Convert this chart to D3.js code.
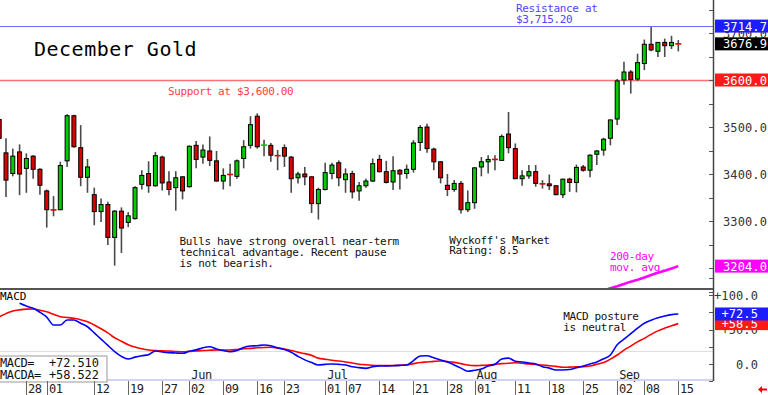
<!DOCTYPE html>
<html>
<head>
<meta charset="utf-8">
<script src="https://cdn.jsdelivr.net/npm/d3@7"></script>
<style>
  html, body { margin: 0; padding: 0; background: #ffffff; }
  svg { display: block; }
  text { font-family: "DejaVu Sans Mono", monospace; }
</style>
</head>
<body>
<div id="chart"></div>
<script>
// trading days shown (MM/DD, 2025)
const dates = ['04/22','04/23','04/24','04/25','04/28','04/29','04/30','05/01','05/02','05/05','05/06','05/07','05/08','05/09','05/12','05/13','05/14','05/15','05/16','05/19','05/20','05/21','05/22','05/23','05/27','05/28','05/29','05/30','06/02','06/03','06/04','06/05','06/06','06/09','06/10','06/11','06/12','06/13','06/16','06/17','06/18','06/20','06/23','06/24','06/25','06/26','06/27','06/30','07/01','07/02','07/03','07/07','07/08','07/09','07/10','07/11','07/14','07/15','07/16','07/17','07/18','07/21','07/22','07/23','07/24','07/25','07/28','07/29','07/30','07/31','08/01','08/04','08/05','08/06','08/07','08/08','08/11','08/12','08/13','08/14','08/15','08/18','08/19','08/20','08/21','08/22','08/25','08/26','08/27','08/28','08/29','09/02','09/03','09/04','09/05','09/08','09/09','09/10','09/11','09/12','09/15'];

const opens = [3516,3445,3401,3447,3412,3438,3410,3364,3324,3324, 3428,3524,3456,3393,3356,3320,3335,3265,3321,3297, 3305,3378,3401,3375,3436,3383,3371,3394,3373,3461, 3436,3449,3428,3385,3399.5,3395,3433,3461,3523,3461, 3461,3439.5,3456,3436,3392,3400,3394,3337,3367,3401, 3424,3388,3401,3364,3375,3385,3431,3405,3383,3408, 3401,3410,3467,3500,3453,3426,3376,3367,3380,3324, 3339,3415,3426,3431.5,3429,3485,3454,3390,3396,3405, 3379.5,3379,3375,3356,3389,3382,3415,3408,3442,3451, 3476,3517,3600,3617,3602,3635,3676,3661,3680,3673, 3677.5];
const highs = [3521,3476,3454,3463,3444,3440,3412,3367,3353,3426, 3527,3526,3504,3432,3371,3348,3341,3323,3329,3319, 3374,3408,3427,3447,3439,3406,3406,3395,3461,3470, 3463,3480,3449,3412,3422,3431,3472,3523,3529,3473, 3466,3451,3463,3438,3405,3415,3395,3371,3424,3424, 3429,3412,3407,3383,3390,3433,3441,3428,3438,3410, 3420,3472,3504,3507,3456,3427,3400,3387,3385,3365, 3415,3436,3440,3440,3484,3532,3465,3408,3419,3419, 3387,3399,3376,3390,3392,3420,3419,3442,3451,3477, 3516,3602,3639,3621,3656,3686,3713,3681,3688,3694, 3685];
const lows = [3472,3351,3395,3355,3360,3390,3356,3286,3310,3323, 3415,3456,3374,3360,3291,3298,3249,3205,3232,3287, 3303,3367,3360,3373,3365,3355,3322,3346,3371,3412, 3422,3417,3384,3367,3374,3390,3412,3454,3454,3438, 3426,3408,3415,3360,3380,3376,3317,3303,3365,3389, 3374,3360,3348,3343,3371,3383,3403,3380,3366,3367, 3390,3403,3449,3445,3408,3380,3353,3362,3316,3319, 3326,3395,3401,3408,3428,3444,3389,3375,3390,3373, 3369,3366,3355,3349,3362,3361,3405,3393,3419,3439, 3461,3504,3590,3571,3598,3621,3661,3649,3649,3666, 3661];
const closes = [3476,3387,3438,3400,3433,3410,3376,3324,3323.5,3418, 3524,3458,3393,3415,3320,3335,3265,3321,3285,3311, 3371,3397,3375,3439,3381,3367,3392,3364,3459,3431, 3451,3429,3385,3397,3399,3428,3458,3505,3458,3461.5, 3440,3439,3438,3390,3400,3394,3337,3367,3403,3419, 3392,3400,3362,3375,3385,3422,3405,3382,3407,3400, 3410,3466,3499,3454,3426,3392,3367,3380,3324,3339, 3413,3426,3431,3431,3480,3456,3390,3396,3405,3380, 3379,3375,3356,3389,3382,3414,3408,3440,3449,3474, 3515,3598,3617,3601,3637,3676,3664,3680,3673,3680, 3676.9];

// 200-day moving average, only the stretch near the bottom of the price panel
const maDates = dates.slice(84);
const maValues = [3129,3133,3138,3143,3147,3152,3157,3161,3166,3171,3175,3180,3185,3190,3194,3199,3204];

// MACD (blue) and its average (red)
const macd = [null,null,null,88,84,80.7,75,68,56.5,56.5, 63.8,63.8,59,54,45,36,27,18,11,7.2, 10,12,13.5,18.8,17.5,16.5,16,15.5,18.5,20.5, 23.5,25,21.7,19.5,17.8,19.5,24,26,26.5,27.5, 26.5,23.5,21,17,11,6,2,-1.4,-0.5,0, -0.5,-1.4,-4,-5.3,-6.3,-4,-2.9,-2.9,-2.5,-2, -1.4,5,11.6,12,9,5.8,3,-1.4,-6,-10.5, -9,-7.2,-3,-0.4,7.2,8.5,4,3,1.5,0, -3.9,-6,-8.7,-8.7,-8,-5.3,-3,0,3,7.5, 13,28,36,44,52,59,63.5,67,69.5,71.5, 72.5];
const macdAvg = [68.6,73,76.8,78.5,79.5,79.7,78,75.8,72,68.6, 67.5,66.2,64,61.3,56.5,51,45,38,33,28, 24.5,22,20.3,19.5,19,18.8,18.2,17.8,18.3,19, 19.5,20,20.3,20.3,20.3,21,22,22.7,23.5,24, 24.2,23,21.7,19.5,17,15,12.5,8.5,7,5.5, 4.3,3,1.5,-0.4,-1,-1.8,-2.2,-2.4,-2.2,-1.8, -1.4,0.5,2.2,3,3.8,4.3,3.5,2.4,0.5,-1.5, -2.4,-2,-1.4,-0.5,0.5,1,1.9,1,0,-0.8, -1.4,-2.5,-3.5,-4.8,-4.5,-4.2,-3.9,-2.8,-0.4,2, 7,13,20,26,32,37.2,43,48,52,55.5, 58.5];
const macdReadout = ['MACD=', '+72.510'];
const macdaReadout = ['MACDA=', '+58.522'];

// 3200 and 3600 sit fully under the value boxes in the original, so they are left out
const priceTicks = [3300, 3400, 3500, 3700];
const macdTicks = [0, 50, 100];
const dateTicks = ['04/28','05/01','05/12','05/19','05/27','06/02','06/09','06/16','06/23','07/01','07/07','07/14','07/21','07/28','08/01','08/11','08/18','08/25','09/02','09/08','09/15'];
const monthDates = ['06/02','07/01','08/01','09/02'];
const monthNames = ['Jun','Jul','Aug','Sep'];

const RESISTANCE = 3715.2;
const RESISTANCE_BOX = 3714.7;
const SUPPORT = 3600;
const MACD_REF = 18;

const W = 768, H = 395;
const AXIS_X = 713;
const PRICE_BOTTOM = 289;
const MACD_TOP = 290, MACD_BOTTOM = 380;
const GREEN = '#00cc00', RED = '#dd0000';
const FS = '"DejaVu Sans Mono", monospace';

const svg = d3.select('#chart').append('svg').attr('width', W).attr('height', H);
const defs = svg.append('defs');
defs.append('clipPath').attr('id', 'clip-price')
    .append('rect').attr('x', 0).attr('y', 0).attr('width', AXIS_X).attr('height', PRICE_BOTTOM);
defs.append('clipPath').attr('id', 'clip-macd')
    .append('rect').attr('x', 0).attr('y', MACD_TOP).attr('width', AXIS_X).attr('height', MACD_BOTTOM - MACD_TOP);

const x = d3.scalePoint().domain(dates).range([-0.8, 678.3]);
const y = d3.scaleLinear().domain([3200, 3600]).range([268, 80]);
const ym = d3.scaleLinear().domain([0, 100]).range([364, 295]);

function addText(sel, tx, ty, str, size, fill, spacing) {
    return sel.append('text')
        .attr('x', tx).attr('y', ty)
        .attr('font-family', FS)
        .attr('font-size', size)
        .attr('letter-spacing', spacing || 0)
        .attr('fill', fill)
        .text(str);
}

// ---- price panel ----
const price = svg.append('g').attr('clip-path', 'url(#clip-price)');

price.append('line')
    .attr('x1', 0).attr('x2', AXIS_X)
    .attr('y1', Math.round(y(RESISTANCE)) + 0.5).attr('y2', Math.round(y(RESISTANCE)) + 0.5)
    .attr('stroke', '#6a6aff').attr('stroke-width', 1.2);
price.append('line')
    .attr('x1', 0).attr('x2', AXIS_X)
    .attr('y1', y(SUPPORT) + 0.5).attr('y2', y(SUPPORT) + 0.5)
    .attr('stroke', '#ff7070').attr('stroke-width', 1.4);

const candles = dates.map((d, i) => ({ d, o: opens[i], h: highs[i], l: lows[i], c: closes[i] }));

price.selectAll('line.wick')
    .data(candles)
    .join('line')
    .attr('class', 'wick')
    .attr('x1', (d) => x(d.d)).attr('x2', (d) => x(d.d))
    .attr('y1', (d) => y(d.h)).attr('y2', (d) => y(d.l))
    .attr('stroke', '#4a4a4a').attr('stroke-width', 1.6);

// flat days are drawn as a short coloured dash
price.selectAll('rect.body')
    .data(candles.filter((d) => Math.abs(d.o - d.c) >= 2))
    .join('rect')
    .attr('class', 'body')
    .attr('x', (d) => x(d.d) - 2)
    .attr('width', 4)
    .attr('y', (d) => y(Math.max(d.o, d.c)))
    .attr('height', (d) => Math.abs(y(d.o) - y(d.c)))
    .attr('fill', (d) => (d.c > d.o ? GREEN : RED))
    .attr('stroke', '#000').attr('stroke-width', 1);

price.selectAll('line.doji')
    .data(candles.filter((d) => Math.abs(d.o - d.c) < 2))
    .join('line')
    .attr('class', 'doji')
    .attr('x1', (d) => x(d.d) - 3).attr('x2', (d) => x(d.d) + 3)
    .attr('y1', (d) => y(d.c)).attr('y2', (d) => y(d.c))
    .attr('stroke', (d) => (d.c > d.o ? GREEN : RED)).attr('stroke-width', 1.6);

price.append('path')
    .datum(maDates.map((d, i) => [d, maValues[i]]))
    .attr('d', d3.line().x((d) => x(d[0])).y((d) => y(d[1])))
    .attr('fill', 'none').attr('stroke', '#ff00ff').attr('stroke-width', 2.6);

// annotations
addText(svg, 34, 56, 'December Gold', 20, '#000', 0.5);
addText(svg, 516, 11.5, 'Resistance at', 11, '#4848ff', -0.36);
addText(svg, 516, 22.5, '$3,715.20', 11, '#4848ff', -0.36);
addText(svg, 168, 94.5, 'Support at $3,600.00', 11, '#ff4040', -0.36);
addText(svg, 179.5, 245, 'Bulls have strong overall near-term', 11, '#111', -0.36);
addText(svg, 179.5, 256, 'technical advantage. Recent pause', 11, '#111', -0.36);
addText(svg, 179.5, 266.5, 'is not bearish.', 11, '#111', -0.36);
addText(svg, 449.3, 243.5, "Wyckoff's Market", 11, '#111', -0.36);
addText(svg, 449.3, 254, 'Rating: 8.5', 11, '#111', -0.36);
addText(svg, 610, 260, '200-day', 11, '#ff00ff', -0.36);
addText(svg, 610, 270.5, 'mov. avg.', 11, '#ff00ff', -0.36);

// ---- MACD panel ----
const mp = svg.append('g').attr('clip-path', 'url(#clip-macd)');
mp.append('line')
    .attr('x1', 0).attr('x2', AXIS_X)
    .attr('y1', ym(MACD_REF)).attr('y2', ym(MACD_REF))
    .attr('stroke', '#ffd0d0').attr('stroke-width', 1);

mp.append('path')
    .datum(dates.map((d, i) => [d, macdAvg[i]]))
    .attr('d', d3.line().x((d) => x(d[0])).y((d) => ym(d[1])).curve(d3.curveMonotoneX))
    .attr('fill', 'none').attr('stroke', '#ff0000').attr('stroke-width', 1.6);
mp.append('path')
    .datum(dates.map((d, i) => [d, macd[i]]))
    .attr('d', d3.line().defined((d) => d[1] !== null).x((d) => x(d[0])).y((d) => ym(d[1])).curve(d3.curveMonotoneX))
    .attr('fill', 'none').attr('stroke', '#0000ff').attr('stroke-width', 1.6);

addText(svg, 0, 300, 'MACD', 11, '#000', 0);
addText(svg, 563.3, 320, 'MACD posture', 11, '#111', -0.36);
addText(svg, 563.3, 330.5, 'is neutral', 11, '#111', -0.36);

// month names along the bottom of the MACD panel
monthDates.forEach((d, i) => addText(svg, x(d) + 2, 379, monthNames[i], 12, '#222', -0.4));

svg.append('line')
    .attr('x1', 0).attr('x2', AXIS_X).attr('y1', 380).attr('y2', 380)
    .attr('stroke', '#d2d2f2').attr('stroke-width', 2);

// MACD readout box
svg.append('rect')
    .attr('x', -1).attr('y', 356).attr('width', 108).attr('height', 26)
    .attr('fill', '#fff').attr('stroke', '#999').attr('stroke-width', 1);
addText(svg, 0, 367, macdReadout[0], 12, '#111', -0.4);
addText(svg, 0, 379, macdaReadout[0], 12, '#111', -0.4);
addText(svg, 49, 367, macdReadout[1], 12, '#111', -0.1);
addText(svg, 49, 379, macdaReadout[1], 12, '#111', -0.1);

// ---- frame ----
svg.append('line')
    .attr('x1', 0).attr('x2', AXIS_X).attr('y1', PRICE_BOTTOM).attr('y2', PRICE_BOTTOM)
    .attr('stroke', '#555').attr('stroke-width', 2);
svg.append('line')
    .attr('x1', AXIS_X + 0.5).attr('x2', AXIS_X + 0.5).attr('y1', 0).attr('y2', 381)
    .attr('stroke', '#444').attr('stroke-width', 1.5);

// price axis ticks and labels
svg.selectAll('line.ptick')
    .data(d3.range(3150, 3751, 50))
    .join('line')
    .attr('class', 'ptick')
    .attr('x1', AXIS_X - 4).attr('x2', AXIS_X)
    .attr('y1', (d) => Math.round(y(d)) + 0.5).attr('y2', (d) => Math.round(y(d)) + 0.5)
    .attr('stroke', '#555');
svg.selectAll('text.plabel')
    .data(priceTicks)
    .join('text')
    .attr('class', 'plabel')
    .attr('x', 767).attr('y', (d) => y(d) + 4.5)
    .attr('text-anchor', 'end')
    .attr('font-family', FS).attr('font-size', 12).attr('letter-spacing', 0.1)
    .attr('fill', '#333')
    .text((d) => d.toFixed(1));

// macd axis ticks and labels
svg.selectAll('line.mtick')
    .data(d3.range(-25, 126, 25))
    .join('line')
    .attr('class', 'mtick')
    .attr('x1', AXIS_X - 4).attr('x2', AXIS_X)
    .attr('y1', (d) => Math.round(ym(d)) + 0.5).attr('y2', (d) => Math.round(ym(d)) + 0.5)
    .attr('stroke', '#555');
svg.selectAll('text.mlabel')
    .data(macdTicks)
    .join('text')
    .attr('class', 'mlabel')
    .attr('x', 758).attr('y', (d) => ym(d) + 4.5)
    .attr('text-anchor', 'end')
    .attr('font-family', FS).attr('font-size', 12).attr('letter-spacing', 0.1)
    .attr('fill', '#333')
    .text((d) => (d > 0 ? '+' : '') + d.toFixed(1));

// value boxes on the right
const lastClose = closes[closes.length - 1];
const lastMa = maValues[maValues.length - 1];
const lastMacd = macd[macd.length - 1];
const lastMacdAvg = macdAvg[macdAvg.length - 1];
const boxes = [
    { yv: y(RESISTANCE_BOX), label: RESISTANCE_BOX.toFixed(1), fill: '#1c1cff', end: 767 },
    { yv: y(lastClose), label: lastClose.toFixed(1), fill: '#000000', end: 767 },
    { yv: y(SUPPORT), label: SUPPORT.toFixed(1), fill: '#ff1a1a', end: 767 },
    { yv: y(lastMa), label: lastMa.toFixed(1), fill: '#ff00ff', end: 767 },
    { yv: ym(lastMacdAvg), label: '+' + lastMacdAvg.toFixed(1), fill: '#ff1a1a', end: 758 },
    { yv: ym(lastMacd), label: '+' + lastMacd.toFixed(1), fill: '#1c1cff', end: 758 }
];
const bg = svg.selectAll('g.vbox').data(boxes).join('g').attr('class', 'vbox');
bg.append('rect')
    .attr('x', 715).attr('y', (d) => d.yv - 6.5)
    .attr('width', 53).attr('height', 13)
    .attr('fill', (d) => d.fill);
bg.append('text')
    .attr('x', (d) => d.end).attr('y', (d) => d.yv + 4.5)
    .attr('text-anchor', 'end')
    .attr('font-family', FS).attr('font-size', 12).attr('letter-spacing', 0.1)
    .attr('fill', '#fff')
    .text((d) => d.label);

// ---- date axis ----
svg.selectAll('line.dtick')
    .data(dateTicks)
    .join('line')
    .attr('class', 'dtick')
    .attr('x1', (d) => Math.round(x(d)) + 0.5).attr('x2', (d) => Math.round(x(d)) + 0.5)
    .attr('y1', 381).attr('y2', 395)
    .attr('stroke', '#666');
svg.selectAll('text.dlabel')
    .data(dateTicks)
    .join('text')
    .attr('class', 'dlabel')
    .attr('x', (d) => Math.round(x(d)) + 2).attr('y', 393)
    .attr('font-family', FS).attr('font-size', 12).attr('letter-spacing', -0.5)
    .attr('fill', '#222')
    .text((d) => d.slice(3));

// little red arrow bottom right
svg.append('path')
    .attr('d', 'M758,389.5 L762,386 L762,388.5 L767,388.5 L767,390.5 L762,390.5 L762,393 Z')
    .attr('fill', '#ee0000');
</script>
</body>
</html>
